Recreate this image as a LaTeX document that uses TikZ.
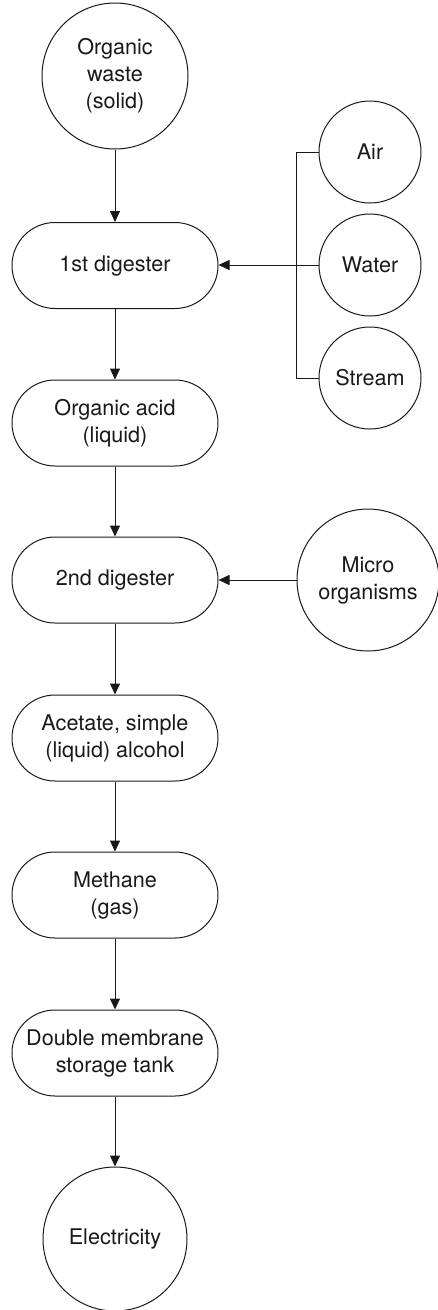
\documentclass[tikz,border=0pt]{standalone}
\usepackage{fontspec}
\setmainfont{TeX Gyre Heros}
\usetikzlibrary{arrows.meta}
\begin{document}
\begin{tikzpicture}[x=1pt,y=-1pt, line width=1pt, color=black!90,
  txt/.style={font=\fontsize{21.6}{27}\selectfont, align=center, text=black!90},
  circ/.style={draw, circle, inner sep=0pt, txt},
  stadium/.style={draw, rectangle, rounded corners=43pt, minimum width=206pt, minimum height=86pt, inner sep=0pt, txt},
  arr/.style={-{Triangle[width=10pt,length=11pt]}}]
\useasboundingbox (0,0) rectangle (438,1310);
\node[circ, minimum size=146pt] (waste) at (115,76) {Organic\\waste\\(solid)};
\node[stadium] (d1) at (115,265.5) {1st digester};
\node[circ, minimum size=102pt] (air) at (370,152) {Air};
\node[circ, minimum size=102pt] (water) at (370,265) {Water};
\node[circ, minimum size=102pt] (stream) at (370,378) {Stream};
\node[stadium] (acid) at (115,423) {Organic acid\\(liquid)};
\node[stadium] (d2) at (115,580) {2nd digester};
\node[circ, minimum size=142pt] (micro) at (368,580) {Micro\\organisms};
\node[stadium] (acet) at (115,738) {Acetate, simple\\(liquid) alcohol};
\node[stadium] (meth) at (115,895) {Methane\\(gas)};
\node[stadium] (tank) at (115,1053) {Double membrane\\storage tank};
\node[circ, minimum size=144pt] (elec) at (115,1239) {Electricity};
\coordinate (bx) at (296,0);
\draw[arr] (waste.south) -- (d1.north);
\draw[arr] (d1.south) -- (acid.north);
\draw[arr] (acid.south) -- (d2.north);
\draw[arr] (d2.south) -- (acet.north);
\draw[arr] (acet.south) -- (meth.north);
\draw[arr] (meth.south) -- (tank.north);
\draw[arr] (tank.south) -- (elec.north);
\draw[arr] (water.west) -- (water.west -| d1.east);
\draw[arr] (micro.west) -- (micro.west -| d2.east);
\draw (air.west) -- (air.west -| bx) -- (stream.west -| bx) -- (stream.west);
\end{tikzpicture}
\end{document}
